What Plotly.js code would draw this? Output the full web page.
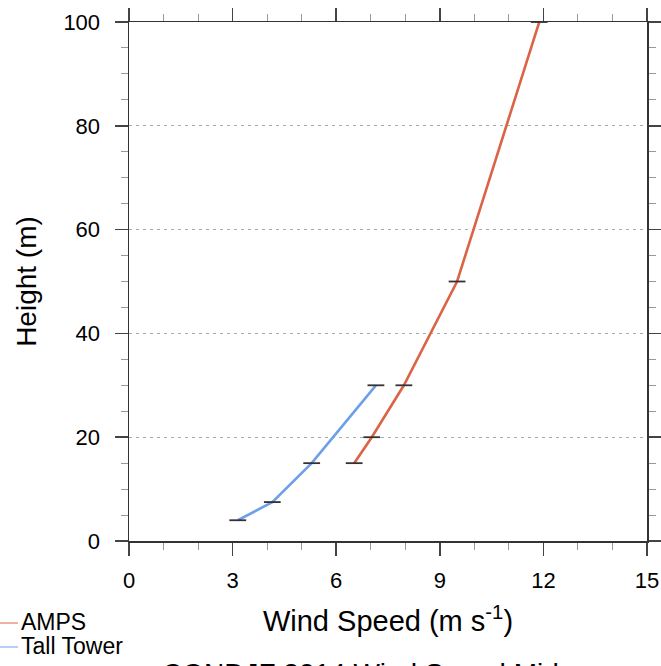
<!DOCTYPE html>
<html>
<head>
<meta charset="utf-8">
<script src="https://cdn.plot.ly/plotly-3.0.1.min.js"></script>
<style>
  html, body { margin: 0; padding: 0; background: #fff; }
  #chart { width: 661px; height: 666px; }
</style>
</head>
<body>
<div id="chart"></div>
<script>
// ---- data ----
const ampsSpeed   = [6.52, 7.03, 7.96, 9.5, 11.88];
const ampsHeight  = [15, 20, 30, 50, 100];
const towerSpeed  = [3.15, 4.15, 5.29, 7.15];
const towerHeight = [4, 7.5, 15, 30];
const seriesNames = ['AMPS', 'Tall Tower'];
const xTicks = [0, 3, 6, 9, 12, 15];
const yTicks = [0, 20, 40, 60, 80, 100];
const xTitle = 'Wind Speed (m s<sup>-1</sup>)';
const yTitle = 'Height (m)';
const mainTitle = 'CONDJF 2014 Wind Speed Mid';

const ampsColor = '#db6446';
const towerColor = '#6e9feb';
const FONT = 'Liberation Sans, Arial, Helvetica, sans-serif';

const traces = [
  {
    x: ampsSpeed, y: ampsHeight, name: seriesNames[0], type: 'scatter', mode: 'lines+markers',
    line: { color: ampsColor, width: 2.6 },
    marker: { symbol: 'line-ew', size: 12, line: { color: '#333', width: 1.8 } },
    showlegend: false, cliponaxis: false
  },
  {
    x: towerSpeed, y: towerHeight, name: seriesNames[1], type: 'scatter', mode: 'lines+markers',
    line: { color: towerColor, width: 2.6 },
    marker: { symbol: 'line-ew', size: 12, line: { color: '#333', width: 1.8 } },
    showlegend: false, cliponaxis: false
  }
];

const axisCommon = {
  showline: true, linecolor: '#333', linewidth: 1.5, mirror: 'allticks',
  ticks: 'outside', ticklen: 13, tickwidth: 1.5, tickcolor: '#444',
  tickfont: { family: FONT, size: 22, color: '#000' },
  zeroline: false, fixedrange: true
};

const layout = {
  width: 661, height: 666,
  margin: { l: 129, r: 14, t: 22, b: 125, pad: 0 },
  paper_bgcolor: '#fff', plot_bgcolor: '#fff',
  font: { family: FONT, color: '#000' },
  showlegend: false,
  xaxis: Object.assign({}, axisCommon, {
    range: [0, 15], tickmode: 'array', tickvals: xTicks, ticktext: xTicks.map(String),
    showgrid: false, ticklabelstandoff: 6,
    minor: { dtick: 1, tick0: 0, ticklen: 7, tickwidth: 1, tickcolor: '#999', showgrid: false },
    title: { text: xTitle, font: { family: FONT, size: 29, color: '#000' }, standoff: 19 }
  }),
  yaxis: Object.assign({}, axisCommon, {
    range: [0, 100], tickmode: 'array', tickvals: yTicks, ticktext: yTicks.map(String),
    showgrid: true, gridcolor: '#aaa', gridwidth: 1, griddash: '3px,4px',
    ticklabelstandoff: 10,
    minor: { dtick: 5, tick0: 0, ticklen: 7, tickwidth: 1, tickcolor: '#999', showgrid: false },
    title: { text: yTitle, font: { family: FONT, size: 28, color: '#000' }, standoff: 18 }
  }),
  shapes: [
    { type: 'line', xref: 'paper', yref: 'paper', x0: -129/518, x1: -111/518, y0: -82/519, y1: -82/519,
      line: { color: ampsColor, width: 1 } },
    { type: 'line', xref: 'paper', yref: 'paper', x0: -129/518, x1: -111/518, y0: -106/519, y1: -106/519,
      line: { color: towerColor, width: 1 } }
  ],
  annotations: [
    { text: seriesNames[0], xref: 'paper', yref: 'paper', x: -110/518, y: -81/519, xanchor: 'left', yanchor: 'middle',
      showarrow: false, font: { family: FONT, size: 23, color: '#000' } },
    { text: seriesNames[1], xref: 'paper', yref: 'paper', x: -110/518, y: -105/519, xanchor: 'left', yanchor: 'middle',
      showarrow: false, font: { family: FONT, size: 23, color: '#000' } },
    { text: mainTitle, xref: 'paper', yref: 'paper', x: 31/518, y: -114.5/519, xanchor: 'left', yanchor: 'top',
      showarrow: false, font: { family: FONT, size: 28, color: '#000' } }
  ]
};

Plotly.newPlot('chart', traces, layout, { staticPlot: true, displayModeBar: false });
</script>
</body>
</html>
